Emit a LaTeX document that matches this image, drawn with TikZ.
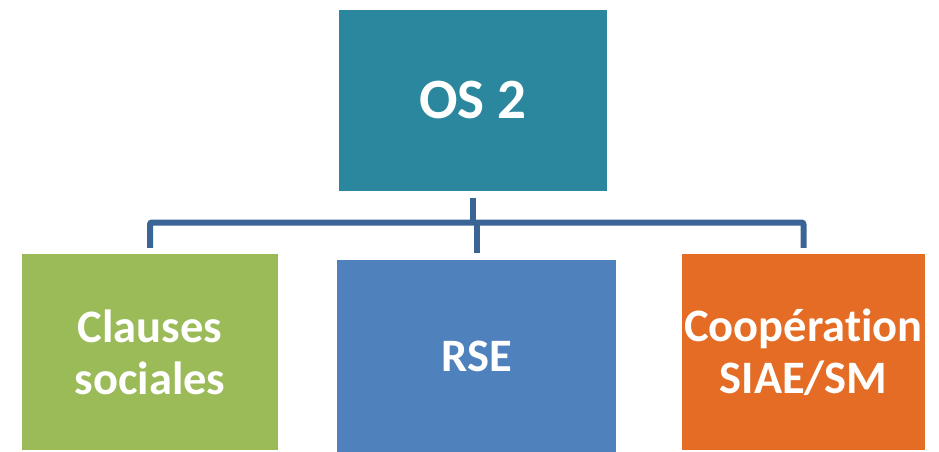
\documentclass[tikz,border=0pt]{standalone}
\usepackage{fontspec}
\setmainfont{Carlito}[Ligatures=NoCommon]
\usetikzlibrary{positioning}
\definecolor{osteal}{RGB}{42,135,157}
\definecolor{clgreen}{RGB}{155,187,89}
\definecolor{rseblue}{RGB}{79,129,189}
\definecolor{cooporange}{RGB}{228,108,36}
\definecolor{linkblue}{RGB}{58,100,150}
\tikzset{
  box/.style={draw=none, text=white, align=center, inner sep=0pt,
    font=\bfseries\fontsize{46.5}{52}\selectfont},
  link/.style={draw=linkblue, line width=6pt, rounded corners=2pt}
}

\begin{document}
\begin{tikzpicture}[x=1pt,y=-1pt]
  \useasboundingbox (0,0) rectangle (939,452);
  % top box
  \node[box, fill=osteal, minimum width=268pt, minimum height=181pt,
        font=\bfseries\fontsize{57}{62}\selectfont] (os) at (473,100.5) {OS 2};
  % the three children
  \node[box, fill=clgreen, minimum width=256pt, minimum height=196pt] (clauses) at (150,352) {Clauses\\sociales};
  \node[box, fill=rseblue, minimum width=279pt, minimum height=192pt] (rse) at (476.5,356) {RSE};
  \node[box, fill=cooporange, minimum width=243pt, minimum height=196pt] (coop) at (803.5,352) {Coopération\\SIAE/SM};
  % connectors
  \coordinate (bus) at (473,222.5);
  \draw[link] ([yshift=-7pt]os.south) -- (os.south |- bus);
  \draw[link] ([yshift=6pt]clauses.north) |- (bus) -| ([yshift=6pt]coop.north);
  \draw[link] (bus -| rse.north) -- ([yshift=7pt]rse.north);
\end{tikzpicture}
\end{document}
